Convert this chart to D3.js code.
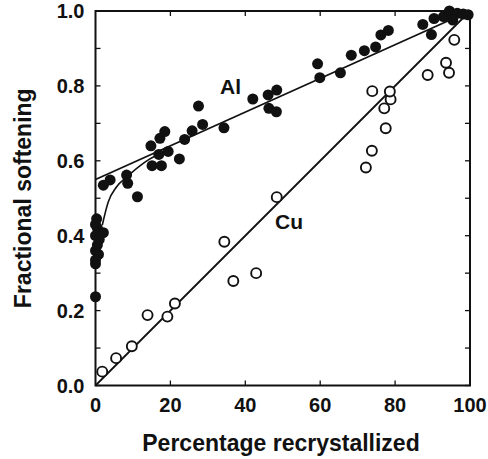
<!DOCTYPE html>
<html><head><meta charset="utf-8">
<script src="https://cdn.jsdelivr.net/npm/d3@7"></script>
<style>
body{margin:0;background:#fff;}
text{font-family:"Liberation Sans",Arial,sans-serif;font-weight:bold;fill:#111;}
</style></head>
<body><svg id="c" width="488" height="459"></svg>
<script>
const xTicks = [0,20,40,60,80,100];
const yTicks = [0.0,0.2,0.4,0.6,0.8,1.0];
const yMinorTicks = [0.1,0.3,0.5,0.7,0.9];
const xLabel = "Percentage recrystallized";
const yLabel = "Fractional softening";

const alX = [0.3,0,0.5,0,1,0.5,0,0.8,0,0,2.1,0,
  2.1,3.9,8.3,8.6,11.2,14.8,15.1,16.9,17.2,17.6,18.5,19.4,22.4,23.8,25.8,27.5,28.6,34.3,
  42,46.1,48.4,46.3,48.3,59.3,59.9,65.4,68.3,71.8,74.8,76.2,78.2,87.4,89.7,90.4,92.9,94.5,95.5,96.6,98.2,99.5,95.4];
const alY = [0.445,0.43,0.42,0.40,0.39,0.375,0.36,0.35,0.335,0.325,0.408,0.237,
  0.535,0.549,0.562,0.54,0.504,0.64,0.587,0.617,0.66,0.587,0.678,0.625,0.605,0.657,0.68,0.746,0.697,0.688,
  0.765,0.776,0.789,0.74,0.731,0.859,0.822,0.835,0.882,0.894,0.904,0.936,0.948,0.964,0.937,0.98,0.985,1.0,0.989,0.994,0.992,0.99,0.976];

const cuX = [1.8,5.5,9.7,13.9,19.2,21.2,34.4,36.8,42.9,48.4,72.2,73.8,77.5,77.1,78.8,78.6,73.9,88.7,94.4,93.6,95.8];
const cuY = [0.037,0.073,0.105,0.188,0.184,0.219,0.384,0.279,0.30,0.503,0.582,0.627,0.687,0.740,0.764,0.785,0.786,0.829,0.835,0.862,0.923];

const alLineX = [0,100], alLineY = [0.55,1.0];
const alCurveX = [1.8,3.4,5.6,8.4,13.3,20];
const alCurveY = [0.428,0.49,0.53,0.557,0.597,0.632];
const cuLineX = [0,100], cuLineY = [0.0,1.0];

const svg = d3.select("#c");
const L=95.5, T=11, W=374.5, H=374.5;
const x = d3.scaleLinear().domain([0,100]).range([L,L+W]);
const y = d3.scaleLinear().domain([0,1]).range([T+H,T]);
const ink="#111";

// inward ticks
const tk=5;
const g = svg.append("g").attr("stroke",ink).attr("stroke-width",1.3);
xTicks.slice(1,-1).forEach(v=>{
  g.append("line").attr("x1",x(v)).attr("x2",x(v)).attr("y1",T+H).attr("y2",T+H-tk);
  g.append("line").attr("x1",x(v)).attr("x2",x(v)).attr("y1",T).attr("y2",T+tk);
});
yTicks.concat(yMinorTicks).forEach(v=>{
  g.append("line").attr("x1",L).attr("x2",L+tk).attr("y1",y(v)).attr("y2",y(v));
  g.append("line").attr("x1",L+W).attr("x2",L+W-tk).attr("y1",y(v)).attr("y2",y(v));
});
svg.append("rect").attr("x",L).attr("y",T).attr("width",W).attr("height",H)
  .attr("fill","none").attr("stroke",ink).attr("stroke-width",2);

// tick labels
svg.append("g").selectAll("text").data(xTicks).join("text")
  .attr("x",d=>x(d)).attr("y",412).attr("text-anchor","middle")
  .attr("font-size",20).text(d=>d);
svg.append("g").selectAll("text").data(yTicks).join("text")
  .attr("x",L-11).attr("y",d=>y(d)+7).attr("text-anchor","end")
  .attr("font-size",20).text(d=>d.toFixed(1));

svg.append("text").attr("x",281).attr("y",451).attr("text-anchor","middle")
  .attr("font-size",23).text(xLabel);
svg.append("text").attr("transform","translate(31,"+(T+H/2)+") rotate(-90)")
  .attr("text-anchor","middle").attr("font-size",23).text(yLabel);

// lines
const line = d3.line().x(d=>x(d[0])).y(d=>y(d[1]));
svg.append("path").datum(d3.zip(alLineX,alLineY)).attr("d",line)
  .attr("fill","none").attr("stroke",ink).attr("stroke-width",1.8);
svg.append("path").datum(d3.zip(cuLineX,cuLineY)).attr("d",line)
  .attr("fill","none").attr("stroke",ink).attr("stroke-width",1.8);
svg.append("path").datum(d3.zip(alCurveX,alCurveY)).attr("d",line.curve(d3.curveMonotoneX))
  .attr("fill","none").attr("stroke",ink).attr("stroke-width",1.6);

// points
svg.append("g").selectAll("circle").data(d3.zip(cuX,cuY)).join("circle")
  .attr("cx",d=>x(d[0])).attr("cy",d=>y(d[1])).attr("r",5)
  .attr("fill","#fff").attr("stroke",ink).attr("stroke-width",1.9);
svg.append("g").selectAll("circle").data(d3.zip(alX,alY)).join("circle")
  .attr("cx",d=>x(d[0])).attr("cy",d=>y(d[1])).attr("r",5.5).attr("fill",ink);

svg.append("text").attr("x",220).attr("y",94).attr("font-size",21).text("Al");
svg.append("text").attr("x",275).attr("y",229).attr("font-size",21).text("Cu");
</script></body></html>
